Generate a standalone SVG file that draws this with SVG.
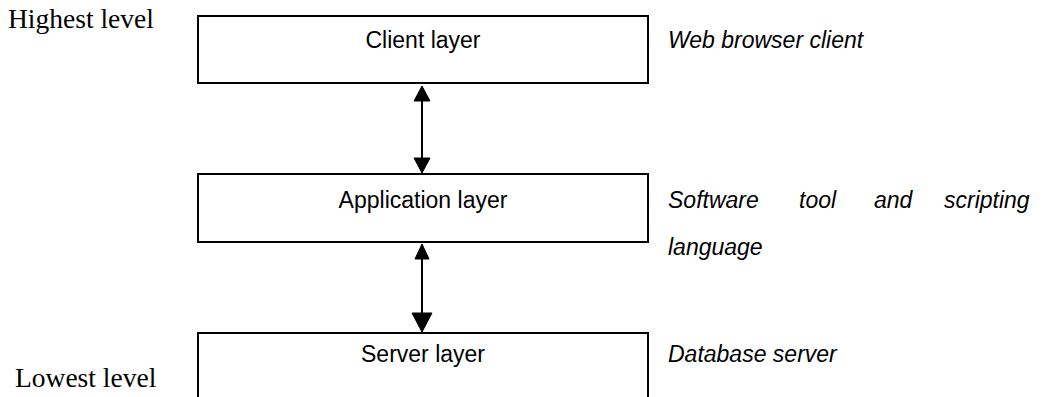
<svg xmlns="http://www.w3.org/2000/svg" width="1047" height="397" viewBox="0 0 1047 397">
<style>
.box{fill:#fff;stroke:#000;stroke-width:2}
.lbl{font-family:"Liberation Sans",Arial,sans-serif;font-size:23px;fill:#000;text-anchor:middle}
.desc{font-family:"Liberation Sans",Arial,sans-serif;font-size:23px;font-style:italic;fill:#000}
.lvl{font-family:"Liberation Serif","Times New Roman",serif;font-size:27.5px;fill:#000}
.line{stroke:#000;stroke-width:2;fill:none}
.head{fill:#000;stroke:#000;stroke-width:1}
</style>
<rect width="1047" height="397" fill="#fff"/>
<text class="lvl" x="8" y="28">Highest level</text>
<text class="lvl" x="15" y="387">Lowest level</text>
<g id="client">
<rect class="box" x="198" y="16" width="450" height="67"/>
<text class="lbl" x="423" y="48">Client layer</text>
</g>
<g id="application">
<rect class="box" x="198" y="174" width="450" height="68"/>
<text class="lbl" x="423" y="208">Application layer</text>
</g>
<g id="server">
<rect class="box" x="198" y="333" width="450" height="70"/>
<text class="lbl" x="423" y="362">Server layer</text>
</g>
<g id="descriptions">
<text class="desc" x="668" y="48">Web browser client</text>
<text class="desc" y="208"><tspan x="668">Software</tspan><tspan x="799">tool</tspan><tspan x="874">and</tspan><tspan x="944">scripting</tspan></text>
<text class="desc" x="668" y="255">language</text>
<text class="desc" x="668" y="362">Database server</text>
</g>
<g id="connectors">
<line class="line" x1="422" y1="98" x2="422" y2="160"/>
<polygon class="head" points="422,86 414,101 430,101"/>
<polygon class="head" points="422,173 414,158 430,158"/>
<line class="line" x1="422" y1="258" x2="422" y2="314"/>
<polygon class="head" points="422,244 415,259 429,259"/>
<polygon class="head" points="422,332 412,313 432,313"/>
</g>
</svg>
